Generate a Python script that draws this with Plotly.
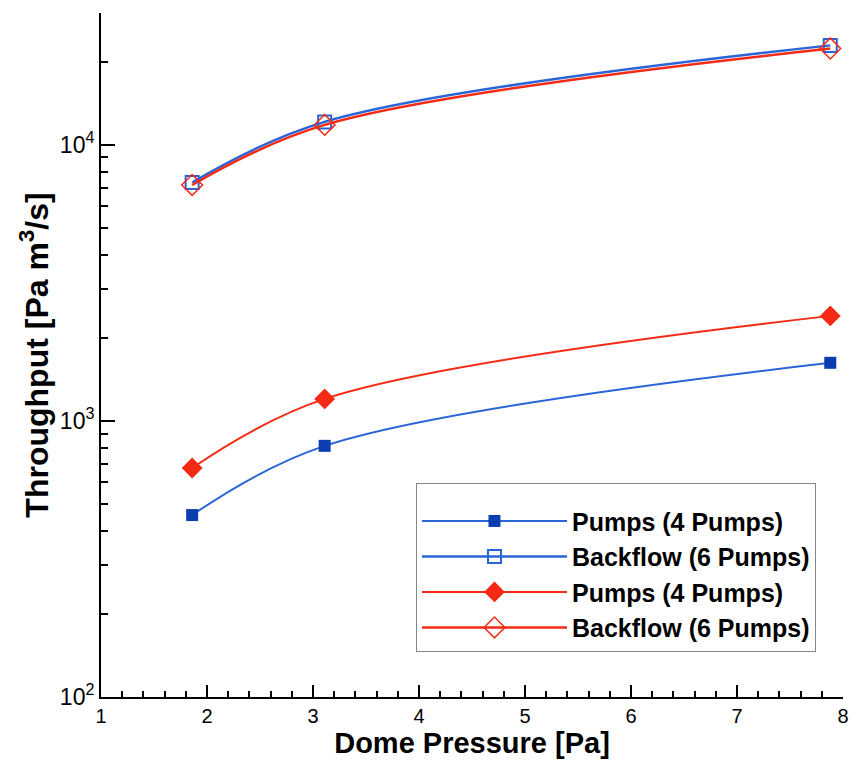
import plotly.graph_objects as go

pressure = [1.86, 3.11, 7.88]
blue_pumps = [456, 812, 1623]
blue_backflow = [7300, 12100, 22900]
red_pumps = [675, 1201, 2400]
red_backflow = [7150, 11800, 22300]

names = ["Pumps (4 Pumps)", "Backflow (6 Pumps)", "Pumps (4 Pumps)", "Backflow (6 Pumps)"]
BLUE_LINE = "#2a64d6"
BLUE_MK = "#0b3eb0"
RED = "#f42a14"

fig = go.Figure()
fig.add_trace(go.Scatter(x=pressure, y=blue_pumps, name="<b>" + names[0] + "</b>", mode="lines+markers",
                         line=dict(color=BLUE_LINE, width=2, shape="spline"),
                         marker=dict(symbol="square", size=12, color=BLUE_MK),
                         legendgroup="a"))
fig.add_trace(go.Scatter(x=pressure, y=blue_backflow, name="<b>" + names[1] + "</b>", mode="lines+markers",
                         line=dict(color=BLUE_LINE, width=2.5, shape="spline"),
                         marker=dict(symbol="square-open", size=13, color=BLUE_LINE, line=dict(width=2)),
                         legendgroup="b"))
fig.add_trace(go.Scatter(x=pressure, y=red_pumps, name="<b>" + names[2] + "</b>", mode="lines+markers",
                         line=dict(color=RED, width=2, shape="spline"),
                         marker=dict(symbol="diamond", size=16, color=RED),
                         legendgroup="c"))
fig.add_trace(go.Scatter(x=pressure, y=red_backflow, name="<b>" + names[3] + "</b>", mode="lines+markers",
                         line=dict(color=RED, width=2.5, shape="spline"),
                         marker=dict(symbol="diamond-open", size=16, color=RED, line=dict(width=1.5)),
                         legendgroup="d"))

fig.update_layout(
    width=859, height=761,
    margin=dict(l=101, r=16, t=13, b=64),
    paper_bgcolor="white", plot_bgcolor="white",
    font=dict(family="Liberation Sans, Arial", color="black"),
    showlegend=True,
    legend=dict(x=0.4245, y=0.313, xanchor="left", yanchor="top",
                bgcolor="white", bordercolor="#888888", borderwidth=1,
                font=dict(size=25, family="Liberation Sans, Arial", color="black"),
                tracegroupgap=0, itemwidth=145,
                title=dict(text=" ", font=dict(size=11))),
)

fig.update_xaxes(
    range=[1, 8], tickmode="linear", tick0=1, dtick=1,
    ticks="inside", ticklen=12, tickwidth=1.5, tickcolor="black",
    showline=True, linecolor="black", linewidth=2,
    showgrid=False, zeroline=False, automargin=False,
    tickfont=dict(size=20),
    minor=dict(dtick=0.2, ticks="inside", ticklen=6, tickcolor="black", showgrid=False),
    title=dict(text="<b>Dome Pressure [Pa]</b>", font=dict(size=29), standoff=0),
)
fig.update_yaxes(
    type="log", range=[2, 4.4771],
    tickmode="array", tickvals=[100, 1000, 10000],
    ticktext=["10<sup>2</sup>", "10<sup>3</sup>", "10<sup>4</sup>"],
    ticks="inside", ticklen=14, tickwidth=1.5, tickcolor="black",
    showline=True, linecolor="black", linewidth=2,
    showgrid=False, zeroline=False, automargin=False,
    tickfont=dict(size=23),
    minor=dict(tickvals=[v * m for v in (100, 1000, 10000) for m in range(2, 10) if v * m <= 30000],
               ticks="inside", ticklen=7, tickcolor="black", showgrid=False),
    title=dict(text="<b>Throughput [Pa m<sup>3</sup>/s]</b>", font=dict(size=32), standoff=2),
)

fig.write_html("out.html")
